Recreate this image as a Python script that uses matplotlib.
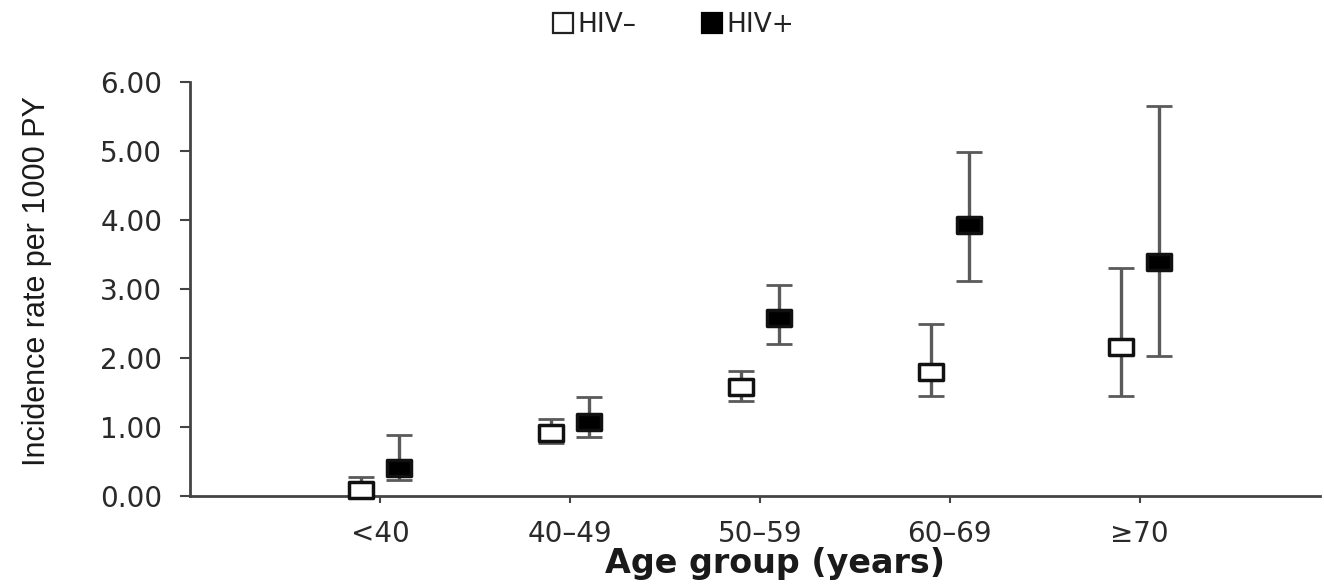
import matplotlib
matplotlib.use("Agg")
import matplotlib.pyplot as plt
from matplotlib.path import Path
from matplotlib.lines import Line2D
import numpy as np

# ---- data ----
categories = ["<40", "40–49", "50–59", "60–69", "≥70"]
hiv_neg = [0.08, 0.91, 1.58, 1.80, 2.16]
hiv_neg_lo = [0.02, 0.77, 1.38, 1.45, 1.45]
hiv_neg_hi = [0.28, 1.11, 1.81, 2.49, 3.30]
hiv_pos = [0.41, 1.07, 2.58, 3.93, 3.39]
hiv_pos_lo = [0.23, 0.85, 2.20, 3.12, 2.03]
hiv_pos_hi = [0.88, 1.43, 3.06, 4.99, 5.65]
yticks = [0, 1, 2, 3, 4, 5, 6]

plt.rcParams['font.family'] = ['DejaVu Sans']

W, H = 1324, 584
fig = plt.figure(figsize=(W / 100, H / 100), dpi=100)
x0, x1 = 190, 1320
ytop, ybot = 82, 496
ax = fig.add_axes([x0 / W, (H - ybot) / H, (x1 - x0) / W, (ybot - ytop) / H])

xpos = np.arange(1, len(categories) + 1)
off = 0.1

rect = Path([(-1.5, -1), (1.5, -1), (1.5, 1), (-1.5, 1), (-1.5, -1)],
            [Path.MOVETO, Path.LINETO, Path.LINETO, Path.LINETO, Path.CLOSEPOLY])

def draw(xs, vals, lo, hi, face):
    vals = np.array(vals); lo = np.array(lo); hi = np.array(hi)
    err = [vals - lo, hi - vals]
    ax.errorbar(xs, vals, yerr=err, fmt='none', ecolor='#5a5a5a', elinewidth=2.4,
                capsize=9.5, capthick=2.0, zorder=2)
    ax.plot(xs, vals, linestyle='none', marker=rect, markersize=17.5,
            markerfacecolor=face, markeredgecolor='#111111', markeredgewidth=2.5,
            zorder=3, clip_on=False)

draw(xpos - off, hiv_neg, hiv_neg_lo, hiv_neg_hi, 'white')
draw(xpos + off, hiv_pos, hiv_pos_lo, hiv_pos_hi, 'black')

ax.set_xlim(0, 5.95)
ax.set_ylim(0, 6)
ax.set_yticks(yticks)
ax.set_yticklabels([f"{v:.2f}" for v in yticks], fontsize=20, color='#2a2a2a')
ax.set_xticks(xpos)
ax.set_xticklabels(categories, fontsize=20, color='#2a2a2a')

for s in ['top', 'right']:
    ax.spines[s].set_visible(False)
for s in ['left', 'bottom']:
    ax.spines[s].set_color('#444444')
    ax.spines[s].set_linewidth(2)
ax.tick_params(axis='y', direction='out', length=7, width=1.5, color='#444444', pad=13)
ax.tick_params(axis='x', direction='out', length=5, width=1.5, color='#444444', pad=12)

ax.set_ylabel("Incidence rate per 1000 PY", fontsize=22, family='Liberation Sans',
              color='#1a1a1a')
ax.yaxis.set_label_coords(-0.122, 0.52)
ax.set_xlabel("Age group (years)", fontsize=24, fontweight='bold', color='#1a1a1a')
ax.xaxis.set_label_coords(0.518, -0.124)

handles = [
    Line2D([], [], linestyle='none', marker='s', markersize=15,
           markerfacecolor='white', markeredgecolor='#222222', markeredgewidth=1.6),
    Line2D([], [], linestyle='none', marker='s', markersize=15,
           markerfacecolor='black', markeredgecolor='black', markeredgewidth=1.6),
]
fig.legend(handles, ["HIV–", "HIV+"], loc='center', bbox_to_anchor=(0.508, 1 - 25 / H),
           ncol=2, frameon=False, fontsize=19, handlelength=0.9, handletextpad=0.1,
           columnspacing=2.4, labelcolor='#222222')

fig.savefig("out.png", dpi=100)
